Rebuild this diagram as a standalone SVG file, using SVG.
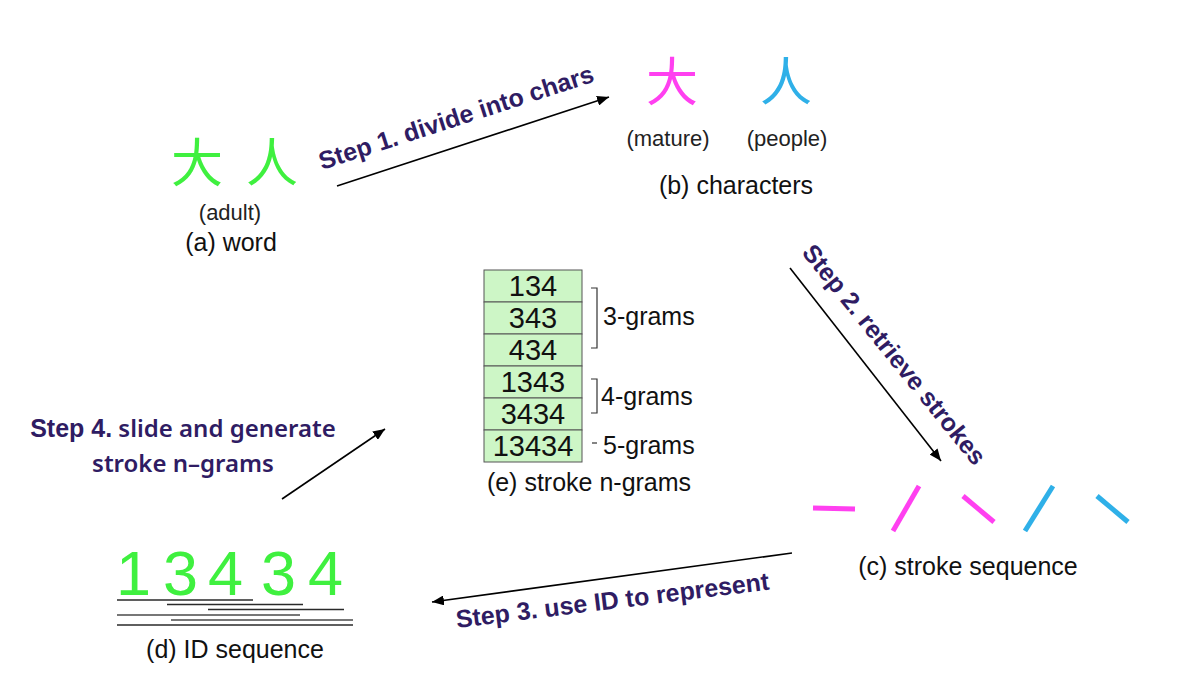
<svg xmlns="http://www.w3.org/2000/svg" width="1178" height="700" viewBox="0 0 1178 700">
  <defs>
    <marker id="arr" markerUnits="userSpaceOnUse" markerWidth="14" markerHeight="10" refX="12" refY="5" orient="auto">
      <path d="M0,0 L12,5 L0,10 Z" fill="#000"/>
    </marker>
    <style>
      .cap{font-family:"Liberation Sans",Arial,sans-serif;font-size:25px;fill:#111;text-anchor:middle}
      .sub{font-family:"Liberation Sans",Arial,sans-serif;font-size:22px;fill:#222;text-anchor:middle}
      .step{font-family:"Liberation Sans",Arial,sans-serif;font-size:25px;font-weight:bold;fill:#2f1c63}
      .step4{font-family:"Noto Sans","Liberation Sans",sans-serif;font-size:24px;font-weight:600;fill:#2f1c63}
      .cjk{font-family:"Noto Sans CJK SC","Noto Sans CJK JP",sans-serif;font-size:52px;font-weight:400;text-anchor:middle}
      .num{font-family:"Liberation Sans",Arial,sans-serif;font-size:29px;fill:#111;text-anchor:middle}
      .gram{font-family:"Liberation Sans",Arial,sans-serif;font-size:25px;fill:#111}
      .cell{fill:#cdf6c6;stroke:#555;stroke-width:1}
      .br{fill:none;stroke:#333;stroke-width:1.2}
      .stk{stroke-width:5;stroke-linecap:butt}
      .ul1{stroke:#2a2a2a;stroke-width:1.5}
      .ul2{stroke:#777;stroke-width:1.8}
      .conn{stroke:#000;stroke-width:1.6;fill:none;marker-end:url(#arr)}
    </style>
  </defs>
  <rect width="1178" height="700" fill="#fff"/>

  <g id="word">
    <text class="cjk" x="197" y="182" fill="#3ff03f">大</text>
    <text class="cjk" x="272" y="182" fill="#3ff03f">人</text>
    <text class="sub" x="230" y="220">(adult)</text>
    <text class="cap" x="231" y="251">(a) word</text>
  </g>

  <g id="characters">
    <text class="cjk" x="672" y="101" fill="#ff40f0">大</text>
    <text class="cjk" x="786" y="101" fill="#2fb0e8">人</text>
    <text class="sub" x="668" y="146">(mature)</text>
    <text class="sub" x="787" y="146">(people)</text>
    <text class="cap" x="736" y="194">(b) characters</text>
  </g>

  <g id="strokes">
    <line class="stk" x1="813" y1="508" x2="855" y2="509" stroke="#ff40f0"/>
    <line class="stk" x1="893" y1="531" x2="919" y2="486" stroke="#ff40f0"/>
    <line class="stk" x1="963" y1="496" x2="994" y2="522" stroke="#ff40f0"/>
    <line class="stk" x1="1025" y1="531" x2="1053" y2="486" stroke="#2fb0e8"/>
    <line class="stk" x1="1097" y1="496" x2="1128" y2="522" stroke="#2fb0e8"/>
    <text class="cap" x="968" y="575">(c) stroke sequence</text>
  </g>

  <g id="id-sequence">
    <text x="116 163 208 261 308" y="595" font-family="'Liberation Sans',Arial,sans-serif" font-size="63" fill="#3ff03f">13434</text>
    <line class="ul1" x1="117" y1="600" x2="253" y2="600"/>
    <line class="ul1" x1="167" y1="604.5" x2="303" y2="604.5"/>
    <line class="ul1" x1="208" y1="609.5" x2="344" y2="609.5"/>
    <line class="ul2" x1="117" y1="615" x2="300" y2="615"/>
    <line class="ul2" x1="171" y1="620" x2="353" y2="620"/>
    <line class="ul1" x1="117" y1="625" x2="353" y2="625"/>
    <text class="cap" x="235" y="658">(d) ID sequence</text>
  </g>

  <g id="ngrams">
    <rect class="cell" x="484" y="270" width="98" height="32"/>
    <rect class="cell" x="484" y="302" width="98" height="32"/>
    <rect class="cell" x="484" y="334" width="98" height="32"/>
    <rect class="cell" x="484" y="366" width="98" height="32"/>
    <rect class="cell" x="484" y="398" width="98" height="32"/>
    <rect class="cell" x="484" y="430" width="98" height="32"/>
    <text class="num" x="533" y="296">134</text>
    <text class="num" x="533" y="328">343</text>
    <text class="num" x="533" y="360">434</text>
    <text class="num" x="533" y="392">1343</text>
    <text class="num" x="533" y="424">3434</text>
    <text class="num" x="533" y="456">13434</text>
    <path class="br" d="M591,288 H597 V348 H591"/>
    <path class="br" d="M591,379 H597 V413 H591"/>
    <line class="br" x1="592" y1="443" x2="597" y2="443"/>
    <text class="gram" x="603" y="325">3-grams</text>
    <text class="gram" x="601" y="405">4-grams</text>
    <text class="gram" x="603" y="454">5-grams</text>
    <text class="cap" x="589" y="491">(e) stroke n-grams</text>
  </g>

  <g id="connectors">
    <line class="conn" x1="337" y1="186" x2="609" y2="97"/>
    <line class="conn" x1="790" y1="268" x2="941" y2="461"/>
    <line class="conn" x1="792" y1="553" x2="432" y2="602"/>
    <line class="conn" x1="282" y1="499" x2="385" y2="429"/>
  </g>

  <g id="step-labels">
    <text class="step" transform="translate(322,170) rotate(-18)">Step 1. divide into chars</text>
    <text class="step" transform="translate(801,253) rotate(51)">Step 2. retrieve strokes</text>
    <text class="step" transform="translate(457,628) rotate(-7)">Step 3. use ID to represent</text>
    <text x="183" y="437" text-anchor="middle"><tspan class="step">Step 4.</tspan><tspan class="step4"> slide and generate</tspan></text>
    <text class="step4" x="183" y="472" text-anchor="middle">stroke n–grams</text>
  </g>
</svg>
